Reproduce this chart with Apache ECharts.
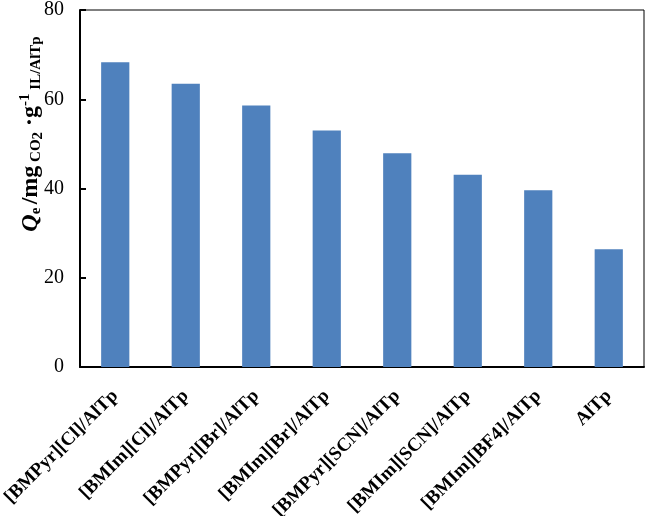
<!DOCTYPE html>
<html>
<head>
<meta charset="utf-8">
<script src="https://cdn.jsdelivr.net/npm/echarts@6/dist/echarts.min.js"></script>
<style>html,body{margin:0;padding:0;background:#fff}#c{width:646px;height:516px}</style>
</head>
<body>
<div id="c"></div>
<script>
var categories = ['[BMPyr][Cl]/AlTp','[BMIm][Cl]/AlTp','[BMPyr][Br]/AlTp','[BMIm][Br]/AlTp','[BMPyr][SCN]/AlTp','[BMIm][SCN]/AlTp','[BMIm][BF4]/AlTp','AlTp'];
var qeValues = [68.3, 63.5, 58.6, 53.0, 47.9, 43.1, 39.6, 26.4];
var yTicks = {min: 0, max: 80, interval: 20};

var serif = '"Liberation Serif","Times New Roman",serif';
var chart = echarts.init(document.getElementById('c'));
chart.setOption({
  animation: false,
  grid: {left: 80, right: 2, top: 10, bottom: 149, show: true, borderColor: '#000', borderWidth: 1, containLabel: false, outerBoundsMode: 'none'},
  xAxis: {
    type: 'category',
    data: categories,
    axisLine: {lineStyle: {color: '#000', width: 2}},
    axisTick: {show: false},
    axisLabel: {rotate: 45, interval: 0, margin: 26, color: '#000', fontFamily: serif, fontWeight: 'bold', fontSize: 19}
  },
  yAxis: {
    type: 'value',
    min: yTicks.min, max: yTicks.max, interval: yTicks.interval,
    splitLine: {show: false},
    axisLine: {show: true, lineStyle: {color: '#000', width: 2}},
    axisTick: {show: true, inside: true, length: 6, lineStyle: {color: '#000', width: 2}},
    axisLabel: {margin: 16, color: '#000', fontFamily: serif, fontSize: 20}
  },
  graphic: [{
    type: 'text',
    x: 31, y: 134,
    rotation: Math.PI / 2,
    style: {
      text: '{q|Q}{sub|e} {b|/mg}{sub| CO}{sub2|2}{b| ·g}{sup|-1}{sub| IL/AlTp}',
      align: 'center', verticalAlign: 'middle',
      fill: '#000',
      rich: {
        q: {font: 'italic bold 24px "Liberation Serif"', fill: '#000'},
        b: {font: 'bold 24px "Liberation Serif"', fill: '#000'},
        sub: {font: 'bold 15px "Liberation Serif"', fill: '#000', padding: [11, 0, 0, 0]},
        sub2: {font: 'bold 15px "Liberation Serif"', fill: '#000', padding: [15, 0, 0, 0]},
        sup: {font: 'bold 15px "Liberation Serif"', fill: '#000', padding: [0, 0, 11, 0]}
      }
    }
  }],
  series: [{
    type: 'bar',
    data: qeValues,
    barWidth: '40%',
    itemStyle: {color: '#4F81BD'}
  }]
});
</script>
</body>
</html>
